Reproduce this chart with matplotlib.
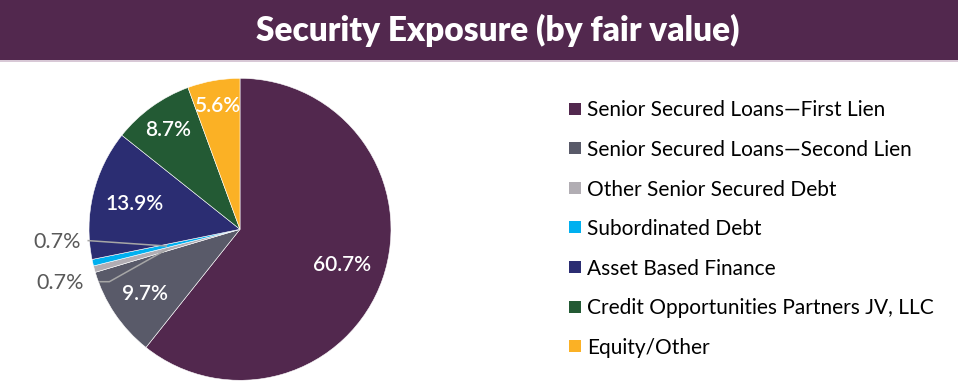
import matplotlib
matplotlib.use("Agg")
import matplotlib.pyplot as plt
from matplotlib.patches import Rectangle
import numpy as np

plt.rcParams['font.family'] = ['Lato', 'DejaVu Sans']

title = "Security Exposure (by fair value)"
categories = [
    "Senior Secured Loans\u2014First Lien",
    "Senior Secured Loans\u2014Second Lien",
    "Other Senior Secured Debt",
    "Subordinated Debt",
    "Asset Based Finance",
    "Credit Opportunities Partners JV, LLC",
    "Equity/Other",
]
values = [60.7, 9.7, 0.7, 0.7, 13.9, 8.7, 5.6]
colors = ["#52284E", "#595A69", "#B1ADB3", "#00B0F0", "#2B2D72", "#235A34", "#FBB125"]

W, H = 958, 382
fig = plt.figure(figsize=(W / 100, H / 100), dpi=100)

# banner
banner_h = 60
fig.patches.append(Rectangle((0, 1 - banner_h / H), 1, banner_h / H,
                             transform=fig.transFigure, facecolor="#52284E",
                             edgecolor="none", zorder=0))
fig.patches.append(Rectangle((0, 1 - (banner_h + 2) / H), 1, 2 / H,
                             transform=fig.transFigure, facecolor="#D8C8D6",
                             edgecolor="none", zorder=0))
fig.text(498 / W, 1 - 30 / H, title, ha="center", va="center",
         color="white", fontsize=24, fontweight="heavy")

# pie
cx, cy, r = 240, 229.3, 151
ax = fig.add_axes([(cx - r) / W, (H - cy - r) / H, 2 * r / W, 2 * r / H])
wedges, _ = ax.pie(values, colors=colors, startangle=90, counterclock=False,
                   radius=1, wedgeprops=dict(edgecolor="white", linewidth=0.4))
ax.set_xlim(-1, 1)
ax.set_ylim(-1, 1)
ax.set_aspect("equal")
ax.axis("off")

label_dist = [0.715, 0.76, None, None, 0.72, 0.815, 0.83]
for w, v, d in zip(wedges, values, label_dist):
    mid = np.deg2rad((w.theta1 + w.theta2) / 2)
    if d is not None:
        ax.text(d * np.cos(mid), d * np.sin(mid), f"{v:.1f}%", ha="center",
                va="center", color="white", fontsize=15, fontweight="semibold")

# outside labels for small slices (leader lines end at half radius, mid-slice)
def anchor(w):
    mid = np.deg2rad((w.theta1 + w.theta2) / 2)
    return 0.5 * np.cos(mid), 0.5 * np.sin(mid)

px, py = anchor(wedges[3])
ax.plot([-1.005, px], [-0.075, py], color="#A6A6A6", lw=1.1, clip_on=False)
ax.text(-1.055, -0.082, f"{values[3]:.1f}%", ha="right", va="center",
        color="#595959", fontsize=15.5)

px, py = anchor(wedges[2])
ax.plot([-0.927, -0.865, px], [-0.347, -0.347, py], color="#A6A6A6", lw=1.1,
        clip_on=False)
ax.text(-1.037, -0.358, f"{values[2]:.1f}%", ha="right", va="center",
        color="#595959", fontsize=15.5)

# legend
row0, step = 108.5, 39.6
for i, (lab, col) in enumerate(zip(categories, colors)):
    y = row0 + i * step
    fig.patches.append(Rectangle((568.5 / W, 1 - (y + 6) / H), 12 / W, 12 / H,
                                 transform=fig.transFigure, facecolor=col,
                                 edgecolor="none"))
    fig.text(587 / W, 1 - y / H, lab, ha="left", va="center_baseline",
             color="black", fontsize=15)

fig.savefig("out.png", dpi=100)
